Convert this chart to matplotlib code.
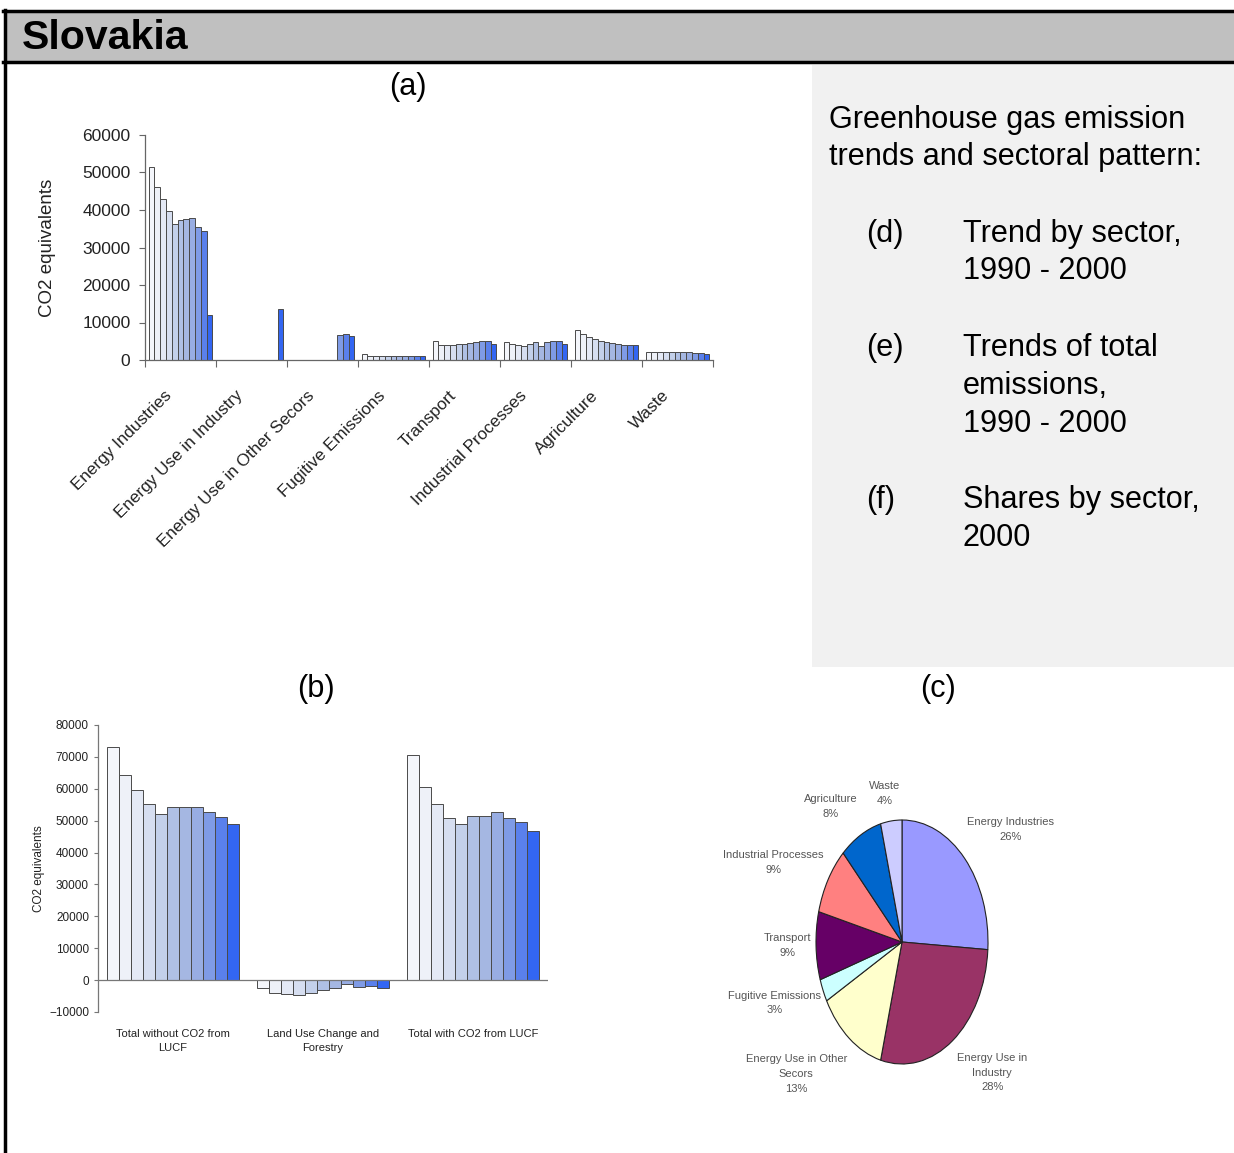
import numpy as np
import matplotlib
matplotlib.use('Agg')
import matplotlib.pyplot as plt
import matplotlib.transforms as mtransforms
from matplotlib.patches import Rectangle
from matplotlib.lines import Line2D

plt.rcParams['font.family'] = ['Liberation Sans', 'DejaVu Sans']

# ---- data -------------------------------------------------------------
years = list(range(1990, 2001))
sectors = ['Energy Industries', 'Energy Use in Industry', 'Energy Use in Other Secors',
           'Fugitive Emissions', 'Transport', 'Industrial Processes', 'Agriculture', 'Waste']
nan = np.nan
energy_industries = [51500, 46200, 42900, 39800, 36200, 37300, 37600, 38000, 35600, 34500, 12000]
energy_use_industry = [nan, nan, nan, nan, nan, nan, nan, nan, nan, nan, 13600]
energy_use_other = [nan, nan, nan, nan, nan, nan, nan, nan, 6600, 7000, 6400]
fugitive = [1600, 1100, 1000, 1000, 1000, 1000, 1000, 1000, 1000, 1000, 1000]
transport = [5200, 4000, 4000, 4000, 4200, 4300, 4600, 4900, 5200, 5200, 4300]
industrial_processes = [4800, 4300, 4000, 3800, 4300, 4800, 3800, 4800, 5200, 5200, 4300]
agriculture = [7900, 7000, 6200, 5500, 5100, 4800, 4600, 4400, 4100, 3900, 3900]
waste = [2200, 2200, 2150, 2150, 2100, 2100, 2100, 2100, 2000, 2000, 1700]

total_categories = ['Total without CO2 from\nLUCF', 'Land Use Change and\nForestry',
                    'Total with CO2 from LUCF']
total_without_lucf = [73000, 64300, 59700, 55200, 52100, 54200, 54200, 54200, 52600, 51000, 49000]
lucf = [-2500, -3900, -4400, -4600, -3900, -3100, -2500, -1300, -2300, -1900, -2500]
total_with_lucf = [70600, 60500, 55200, 50800, 49000, 51600, 51600, 52800, 50800, 49700, 46700]

share_labels = ['Energy Industries\n26%', 'Energy Use in\nIndustry\n28%',
                'Energy Use in Other\nSecors\n13%', 'Fugitive Emissions\n3%',
                'Transport\n9%', 'Industrial Processes\n9%', 'Agriculture\n8%', 'Waste\n4%']
shares = [26, 28, 13, 3, 9, 9, 8, 4]

# ---- style ------------------------------------------------------------
year_colors = ['#f4f6fb', '#eef1f8', '#e4e9f5', '#d6def0', '#c3d0ea', '#afc0e5',
               '#a5b7e2', '#98ade3', '#7f9be6', '#5a80ec', '#3366f2']
pie_colors = ['#9999ff', '#993366', '#ffffcc', '#ccffff', '#660066', '#ff8080',
              '#0066cc', '#ccccff']

W, H = 1234, 1153
fig = plt.figure(figsize=(W / 100, H / 100), dpi=100)


def box(left, top, right, bottom):
    return [left / W, 1 - bottom / H, (right - left) / W, (bottom - top) / H]


# frame and header
fig.add_artist(Rectangle((4 / W, 1 - 62 / H), 1 - 4 / W, 51 / H, transform=fig.transFigure,
                         facecolor='#c0c0c0', edgecolor='none'))
fig.add_artist(Rectangle((812 / W, 1 - 667 / H), 422 / W, 602 / H, transform=fig.transFigure,
                         facecolor='#f1f1f1', edgecolor='none'))
for y in (11, 62):
    fig.add_artist(Line2D([3 / W, 1], [1 - y / H, 1 - y / H], transform=fig.transFigure,
                          color='black', lw=2.5))
fig.add_artist(Line2D([4.5 / W, 4.5 / W], [0, 1 - 10 / H], transform=fig.transFigure,
                      color='black', lw=2.5))
fig.text(22 / W, 1 - 38 / H, 'Slovakia', fontsize=29.5, fontweight='bold', va='center')

# side panel text
txt = dict(fontsize=22.1, va='center', ha='left')
fig.text(829 / W, 1 - 120 / H, 'Greenhouse gas emission', **txt)
fig.text(829 / W, 1 - 157 / H, 'trends and sectoral pattern:', **txt)
fig.text(866 / W, 1 - 234 / H, '(d)', **txt)
fig.text(963 / W, 1 - 234 / H, 'Trend by sector,', **txt)
fig.text(963 / W, 1 - 271 / H, '1990 - 2000', **txt)
fig.text(866 / W, 1 - 348 / H, '(e)', **txt)
fig.text(963 / W, 1 - 348 / H, 'Trends of total', **txt)
fig.text(963 / W, 1 - 386 / H, 'emissions,', **txt)
fig.text(963 / W, 1 - 424 / H, '1990 - 2000', **txt)
fig.text(866 / W, 1 - 500 / H, '(f)', **txt)
fig.text(963 / W, 1 - 500 / H, 'Shares by sector,', **txt)
fig.text(963 / W, 1 - 538 / H, '2000', **txt)

fig.text(408 / W, 1 - 87 / H, '(a)', fontsize=22.1, ha='center', va='center')
fig.text(316 / W, 1 - 689 / H, '(b)', fontsize=22.1, ha='center', va='center')
fig.text(938 / W, 1 - 689 / H, '(c)', fontsize=22.1, ha='center', va='center')


def grouped_bars(ax, series, start, span):
    n = len(years)
    width = span / n
    for s, vals in enumerate(series):
        for k, v in enumerate(vals):
            if np.isnan(v):
                continue
            ax.bar(s + start + k * width, v, width=width, align='edge',
                   color=year_colors[k], edgecolor='#4a4a4a', linewidth=0.7, zorder=2)


# (a) trend by sector
ax1 = fig.add_axes(box(145, 135, 713, 360))
sector_series = [energy_industries, energy_use_industry, energy_use_other, fugitive,
                 transport, industrial_processes, agriculture, waste]
grouped_bars(ax1, sector_series, 0.05, 0.9)
ax1.set_xlim(0, len(sectors))
ax1.set_ylim(0, 60000)
ax1.set_yticks(np.arange(0, 60001, 10000))
ax1.set_xticks(np.arange(len(sectors) + 1))
ax1.set_xticklabels([])
# rotated category names, anchored a little left of and below each category centre
offset = mtransforms.ScaledTranslation(-0.12, -0.32, fig.dpi_scale_trans)
for i, name in enumerate(sectors):
    ax1.text(i + 0.5, 0, name, transform=ax1.get_xaxis_transform() + offset,
             rotation=45, ha='right', va='center_baseline', rotation_mode='anchor',
             fontsize=12.3, color='#222222')
ax1.tick_params(axis='x', which='major', length=5, color='#666666')
ax1.tick_params(axis='y', labelsize=12.5, length=4, pad=6.5, color='#666666',
                labelcolor='#222222')
ax1.set_ylabel('CO2 equivalents', fontsize=13.5, color='#222222', labelpad=19)
for side in ('top', 'right'):
    ax1.spines[side].set_visible(False)
for side in ('left', 'bottom'):
    ax1.spines[side].set_color('#666666')
    ax1.spines[side].set_linewidth(0.9)

# (b) totals
ax2 = fig.add_axes(box(98, 725, 548, 1012))
grouped_bars(ax2, [total_without_lucf, lucf, total_with_lucf], 0.06, 0.88)
ax2.set_xlim(0, len(total_categories))
ax2.set_ylim(-10000, 80000)
ax2.set_yticks(np.arange(-10000, 80001, 10000))
ax2.axhline(0, color='#777777', lw=0.9, zorder=3)
ax2.set_xticks(np.arange(len(total_categories)) + 0.5)
ax2.set_xticklabels(total_categories, fontsize=8, color='#222222', linespacing=1.5)
ax2.tick_params(axis='x', length=0, pad=12)
ax2.tick_params(axis='y', labelsize=8.5, length=3, color='#777777', labelcolor='#222222')
ax2.set_ylabel('CO2 equivalents', fontsize=8.5, color='#222222', labelpad=3)
for side in ('top', 'right', 'bottom'):
    ax2.spines[side].set_visible(False)
ax2.spines['left'].set_color('#777777')
ax2.spines['left'].set_linewidth(0.9)

# (c) shares 2000
ax3 = fig.add_axes(box(816, 820, 988, 1064))
wedges, _ = ax3.pie(shares, colors=pie_colors, startangle=90, counterclock=False,
                    wedgeprops=dict(edgecolor='#222222', linewidth=0.8))
ax3.set_aspect('auto')
ax3.set_xlim(-1, 1)
ax3.set_ylim(-1, 1)
# label placement (axes units, pie radius = 1)
label_pos = [(1.26, 0.92), (1.05, -1.07), (-1.23, -1.08), (-1.48, -0.50),
             (-1.33, -0.03), (-1.50, 0.65), (-0.83, 1.11), (-0.20, 1.22)]
for lab, (lx, ly) in zip(share_labels, label_pos):
    ax3.text(lx, ly, lab, ha='center', va='center', fontsize=8,
             color='#555555', linespacing=1.6, clip_on=False)

fig.savefig('out.png', dpi=100)
